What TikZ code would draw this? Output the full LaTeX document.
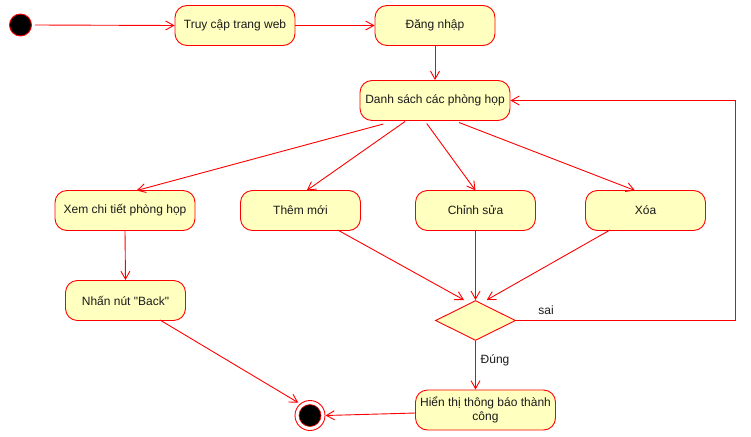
\documentclass[tikz,border=0pt]{standalone}
\usepackage{fontspec}
\setmainfont{Liberation Sans}[Ligatures=TeXOff]
\usetikzlibrary{arrows.meta,shapes.geometric}
\definecolor{umlfill}{HTML}{FFFFC0}
\definecolor{umlred}{HTML}{FF0000}
\definecolor{txt}{HTML}{1A1A1A}
\tikzset{
  act/.style={draw=umlred,fill=umlfill,rounded corners=12pt,line width=0.9pt,
    minimum height=40pt,inner sep=0pt,align=center,font=\fontsize{12}{14}\selectfont,text=txt},
  flow/.style={draw=umlred,line width=0.9pt,-{Straight Barb[length=8pt,width=9pt,line width=0.9pt]}},
  lbl/.style={font=\fontsize{12}{14}\selectfont,text=txt,inner sep=0pt}
}
\begin{document}
\begin{tikzpicture}[x=1pt,y=-1pt]
\useasboundingbox (0,0) rectangle (751,436);
% start
\node[circle,draw=umlred,fill=black,line width=0.9pt,minimum size=22pt,inner sep=0pt] (start) at (20.5,25) {};
\node[act,minimum width=120pt] (truy) at (235,25.5) {Truy cập trang web};
\node[act,minimum width=120pt] (dang) at (435,25.5) {Đăng nhập};
\node[act,minimum width=150pt] (ds) at (435,100.5) {Danh sách các phòng họp};
\node[act,minimum width=140pt] (xem) at (125,210.5) {Xem chi tiết phòng họp};
\node[act,minimum width=120pt] (them) at (300.5,210.5) {Thêm mới};
\node[act,minimum width=120pt] (sua) at (475.5,210.5) {Chỉnh sửa};
\node[act,minimum width=120pt] (xoa) at (645.5,210.5) {Xóa};
\node[act,minimum width=120pt] (back) at (125.5,300.5) {Nhấn nút "Back"};
\node[diamond,draw=umlred,fill=umlfill,line width=0.9pt,minimum width=80pt,minimum height=40pt,inner sep=0pt,aspect=2] (dec) at (475.5,320.5) {};
\node[act,minimum width=140pt] (hien) at (485.5,410) {Hiển thị thông báo thành\\công};
% final
\node[circle,draw=umlred,fill=white,line width=0.9pt,minimum size=30pt,inner sep=0pt] (final) at (310,415.5) {};
\node[circle,fill=black,draw=umlred,line width=0.6pt,minimum size=22pt,inner sep=0pt] (finalin) at (310,415.5) {};
% coordinates
\coordinate (s0) at (35,25);
\coordinate (d1) at (383.3,124);
\coordinate (d2) at (405,121.5);
\coordinate (d3) at (426.7,123.5);
\coordinate (d4) at (459,122.5);
\coordinate (e1) at (136.7,190.5);
\coordinate (e2) at (306.7,190.5);
\coordinate (e3) at (475.5,190.5);
\coordinate (e4) at (635,190.5);
\coordinate (t2) at (337.7,230);
\coordinate (t4) at (610,230);
\coordinate (q2) at (464,300);
\coordinate (q3) at (475.5,300);
\coordinate (q4) at (486.7,300);
\coordinate (c1) at (735,320.5);
\coordinate (c2) at (735,100.5);
\coordinate (b1) at (160,320);
\coordinate (f1) at (298.3,402.7);
\coordinate (f2) at (325.5,415.5);
\coordinate (h1) at (415.5,413);
% edges
\draw[flow] (s0) -- (truy.west);
\draw[flow] (truy.east) -- (dang.west);
\draw[flow] (dang.south) -- (ds.north);
\draw[flow] (d1) -- (e1);
\draw[flow] (d2) -- (e2);
\draw[flow] (d3) -- (e3);
\draw[flow] (d4) -- (e4);
\draw[flow] (xem.south) -- (back.north);
\draw[flow] (t2) -- (q2);
\draw[flow] (sua.south) -- (q3);
\draw[flow] (t4) -- (q4);
\draw[flow] (dec.east) -- (c1) -- (c2) -- (ds.east);
\draw[flow] (dec.south) -- (hien.north -| dec.south);
\draw[flow] (b1) -- (f1);
\draw[flow] (h1) -- (f2);
% labels
\node[lbl] (sai) at (546,310) {sai};
\node[lbl] (dung) at (495,360) {Đúng};
\end{tikzpicture}
\end{document}
